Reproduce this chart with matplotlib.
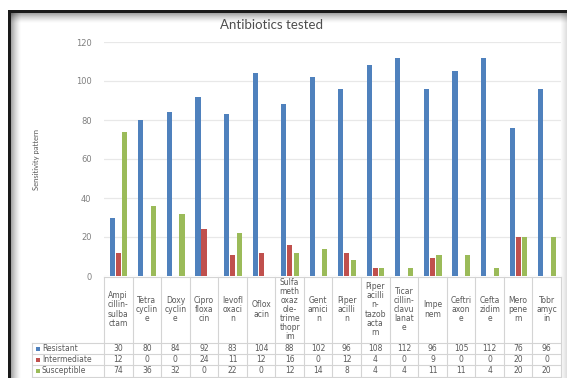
import matplotlib.pyplot as plt
import numpy as np
from matplotlib.patches import Rectangle

# antibiotics (header text wrapped like the table cells)
drugs = ['Ampi\ncillin-\nsulba\nctam', 'Tetra\ncyclin\ne', 'Doxy\ncyclin\ne', 'Cipro\nfloxa\ncin',
         'levofl\noxaci\nn', 'Oflox\nacin', 'Sulfa\nmeth\noxaz\nole-\ntrime\nthopr\nim',
         'Gent\namici\nn', 'Piper\nacilli\nn', 'Piper\nacilli\nn-\ntazob\nacta\nm',
         'Ticar\ncillin-\nclavu\nlanat\ne', 'Impe\nnem', 'Ceftri\naxon\ne', 'Cefta\nzidim\ne',
         'Mero\npene\nm', 'Tobr\namyc\nin']
resistant = [30, 80, 84, 92, 83, 104, 88, 102, 96, 108, 112, 96, 105, 112, 76, 96]
intermediate = [12, 0, 0, 24, 11, 12, 16, 0, 12, 4, 0, 9, 0, 0, 20, 0]
susceptible = [74, 36, 32, 0, 22, 0, 12, 14, 8, 4, 4, 11, 11, 4, 20, 20]
series_names = ['Resistant', 'Intermediate', 'Susceptible']
colors = ['#4f81bd', '#c0504d', '#9bbb59']

W, H = 567, 378
fig = plt.figure(figsize=(5.67, 3.78), dpi=100)


def box(x0, y0, x1, y1):
    return [x0 / W, 1 - y1 / H, (x1 - x0) / W, (y1 - y0) / H]


# frame with a soft shadow
bg = fig.add_axes([0, 0, 1, 1], zorder=-1)
bg.set_xlim(0, W)
bg.set_ylim(H, 0)
bg.axis('off')
for i in range(10):
    a = 0.35 * (1 - i / 10) ** 1.5
    bg.add_patch(Rectangle((10.5 + i, 12.5), 1, H, color='k', alpha=a, lw=0))
    bg.add_patch(Rectangle((10.5, 12.5 + i), W, 1, color='k', alpha=a, lw=0))
for i in range(6):
    bg.add_patch(Rectangle((W - 1 - i, 12.5), 1, H, color='k', alpha=0.12 * (1 - i / 6), lw=0))
bg.add_patch(Rectangle((8, 10), 2.5, H, color='#1a1a1a', lw=0))
bg.add_patch(Rectangle((8, 10), W, 2.5, color='#1a1a1a', lw=0))

# bars
ax = fig.add_axes(box(104, 42, 561, 276))
x = np.arange(len(resistant))
for off, vals, c in zip([-0.21, 0, 0.23], [resistant, intermediate, susceptible], colors):
    ax.bar(x + off, vals, 0.18, color=c, zorder=3)
ax.set_xlim(-0.5, 15.5)
ax.set_ylim(0, 120)
ax.set_yticks(range(0, 121, 20))
ax.set_xticks([])
ax.grid(axis='y', color='#e8e8e8', lw=0.9)
for s in ax.spines.values():
    s.set_visible(False)
ax.tick_params(axis='y', length=0, pad=9, labelsize=6, labelcolor='#808080')

fig.text(271 / W, 1 - 25 / H, 'Antibiotics tested', ha='center', va='center',
         fontsize=9.5, family='Lato', color='#4d4d4d')
fig.text(36 / W, 1 - 159 / H, 'Sensitivity pattern', rotation=90, ha='center', va='center',
         fontsize=5.5, family='Lato', color='#595959')

# data table under the chart
cw = 457 / 16
tb = fig.add_axes(box(32, 276, 561, 378))
xl = -0.5 - 72 / cw
tb.set_xlim(xl, 15.5)
tb.set_ylim(378, 276)
tb.axis('off')
lc = '#d4d4d4'
tb.plot([-0.5, 15.5], [276.5, 276.5], color=lc, lw=0.8, clip_on=False)
for b in np.arange(-0.5, 16):
    tb.plot([b, b], [276.5, 378], color=lc, lw=0.8, clip_on=False)
tb.plot([xl, xl], [343, 378], color=lc, lw=0.8, clip_on=False)
for yy in [343, 354, 365, 376.5]:
    tb.plot([xl, 15.5], [yy, yy], color=lc, lw=0.8, clip_on=False)

tc = '#595959'
for i, name in enumerate(drugs):
    tb.text(i, 309.5, name, ha='center', va='center', fontsize=5.5, color=tc, linespacing=1.02)
for r, (label, vals, c) in enumerate(zip(series_names, [resistant, intermediate, susceptible], colors)):
    y = 348.7 + 11 * r
    tb.add_patch(Rectangle((xl + 4 / cw, y - 1.8), 4.5 / cw, 3.6, color=c, lw=0))
    tb.text(xl + 10 / cw, y, label, ha='left', va='center', fontsize=5.5, color=tc)
    for i, v in enumerate(vals):
        tb.text(i, y, str(v), ha='center', va='center', fontsize=5.5, color=tc)

fig.savefig('out.png', dpi=100)
